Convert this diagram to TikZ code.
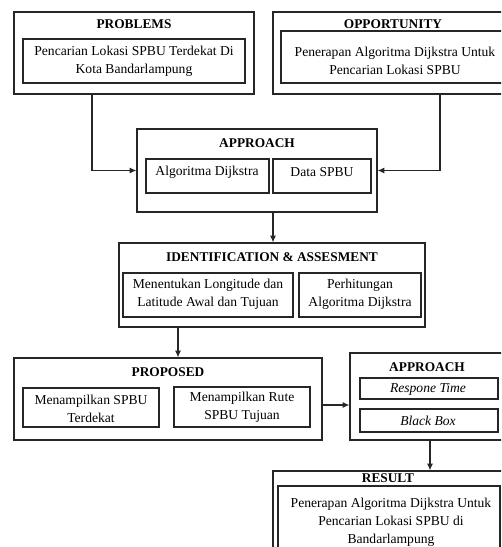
\documentclass[tikz,border=0pt]{standalone}
\usepackage{fontspec}
\setmainfont{Liberation Serif}
\usetikzlibrary{fit,arrows.meta}
\begin{document}
\begin{tikzpicture}[x=0.75pt,y=-0.75pt,
  outerbox/.style={draw=black!85,line width=0.9pt,inner sep=0pt,fit={#1}},
  innerbox/.style={draw=black!85,line width=0.9pt,inner sep=0pt,fit={#1}},
  ttl/.style={font=\fontsize{10}{12}\selectfont\bfseries,inner sep=0pt},
  txt/.style={font=\fontsize{10.2}{13.6}\selectfont,align=center,inner sep=0pt},
  arr/.style={draw=black!85,line width=0.9pt,-{Latex[length=5pt,width=4.5pt]}}]
\useasboundingbox (0,0) rectangle (501,547);
\clip (0,0) rectangle (501,547);
% PROBLEMS
\node[outerbox={(14,12) (254,94)}] (prob) {};
\node[ttl] (probt) at (134,24) {PROBLEMS};
\node[innerbox={(23,39) (245,83)}] (probi) {};
\node[txt] (probx) at (134,61) {Pencarian Lokasi SPBU Terdekat Di\\Kota Bandarlampung};
% OPPORTUNITY
\node[outerbox={(273,12) (513,94)}] (opp) {};
\node[ttl] (oppt) at (393,24) {OPPORTUNITY};
\node[innerbox={(281,31) (505,83)}] (oppi) {};
\node[txt] (oppx) at (395,61) {Penerapan Algoritma Dijkstra Untuk\\Pencarian Lokasi SPBU};
% APPROACH
\node[outerbox={(137,129) (377,212)}] (appr) {};
\node[ttl] (apprt) at (257,143) {APPROACH};
\node[innerbox={(146,159) (269,193)}] (appr1) {};
\node[txt] (appr1x) at (207,172) {Algoritma Dijkstra};
\node[innerbox={(273,159) (371,193)}] (appr2) {};
\node[txt] (appr2x) at (322,172) {Data SPBU};
% IDENTIFICATION
\node[outerbox={(119,243) (425,327)}] (iden) {};
\node[ttl] (ident) at (272,257) {IDENTIFICATION \& ASSESMENT};
\node[innerbox={(123,273) (293,317)}] (iden1) {};
\node[txt] (iden1x) at (208,294) {Menentukan Longitude dan\\Latitude Awal dan Tujuan};
\node[innerbox={(299,273) (421,317)}] (iden2) {};
\node[txt] (iden2x) at (360,294) {Perhitungan\\Algoritma Dijkstra};
% PROPOSED
\node[outerbox={(14,358) (322,440)}] (prop) {};
\node[ttl] (propt) at (168,372) {PROPOSED};
\node[innerbox={(23,388) (159,427)}] (prop1) {};
\node[txt] (prop1x) at (91,409) {Menampilkan SPBU\\Terdekat};
\node[innerbox={(174,387) (310,427)}] (prop2) {};
\node[txt] (prop2x) at (242,407) {Menampilkan Rute\\SPBU Tujuan};
% APPROACH 2
\node[outerbox={(350,353) (506,440)}] (apb) {};
\node[ttl] (apbt) at (427,367) {APPROACH};
\node[innerbox={(360,378) (498,399)}] (apb1) {};
\node[txt] (apb1x) at (428,389) {\itshape Respone Time};
\node[innerbox={(360,409) (498,432)}] (apb2) {};
\node[txt] (apb2x) at (428,421) {\itshape Black Box};
% RESULT
\node[outerbox={(273,471) (505,580)}] (res) {};
\node[ttl] (rest) at (388,478) {RESULT};
\node[innerbox={(278,486) (500,575)}] (resi) {};
\node[txt] (resx) at (391,522) {Penerapan Algoritma Dijkstra Untuk\\Pencarian Lokasi SPBU di\\Bandarlampung};
% connectors
\draw[arr] ([xshift=-31.5pt]prob.south) |- (appr.west);
\draw[arr] ([xshift=35.25pt]opp.south) |- (appr.east);
\draw[arr] ([xshift=12pt]appr.south) -- ([xshift=12pt]appr.south |- iden.north);
\draw[arr] ([xshift=-70.5pt]iden.south) -- ([xshift=-70.5pt]iden.south |- prop.north);
\draw[arr] ([yshift=-4.5pt]prop.east) -- ([yshift=-4.5pt]prop.east -| apb.west);
\draw[arr] ([xshift=1.5pt]apb.south) -- ([xshift=1.5pt]apb.south |- res.north);
\end{tikzpicture}
\end{document}
